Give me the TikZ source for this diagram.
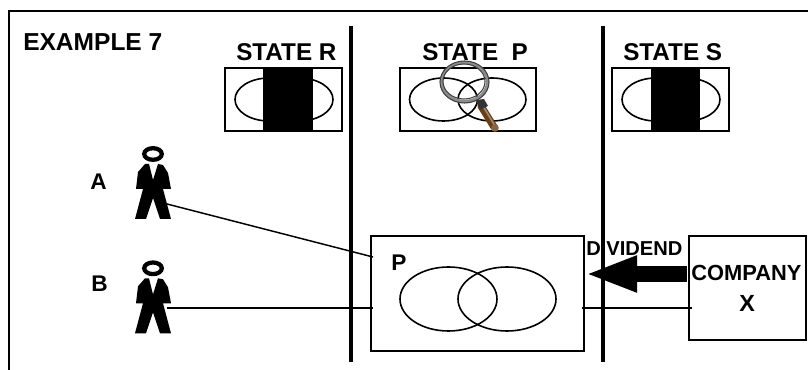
\documentclass[tikz,border=0pt]{standalone}
\usepackage{fontspec}
\setmainfont{Liberation Sans}
\usepackage{tikz}
\usetikzlibrary{positioning,arrows.meta,calc}
\definecolor{handlebrown}{HTML}{6B3D14}
\definecolor{handleend}{HTML}{8A6240}
\tikzset{%
  thinline/.style = { line width = 1.1pt, draw = black },
  border/.style   = { line width = 1.8pt, draw = black },
  divider/.style  = { line width = 3.2pt, draw = black },
  oval/.style     = { line width = 1.2pt, draw = black },
  statebox/.style = { draw = black, line width = 1.3pt, minimum height = 47.25pt, inner sep = 0pt },
  tbox/.style     = { draw = black, line width = 1.3pt, inner sep = 0pt },
  lbl/.style      = { font = \bfseries\fontsize{#1}{#1}\selectfont, inner sep = 0pt, anchor = base west },
  lbl/.default    = 18,
  man/.pic = {
    \fill[black] (-8,10) -- (-4,10) -- (0,26) -- (5,10) -- (10,11) -- (15,19) -- (18,35)
      -- (10,35) -- (18,65) -- (7,65) -- (0,44) -- (-7,65) -- (-18,65) -- (-10,35) -- (-17,35) -- (-15,18) -- cycle;
    \draw[line width = 3.2pt] (0,0) ellipse [x radius = 8.8, y radius = 5.8];
  }
}
\begin{document}
\begin{tikzpicture}[x=0.75pt,y=-0.75pt]
\useasboundingbox (0,0) rectangle (808,370);

% frame
\draw[border] (9,370) -- (9,11) -- (808,11);

% titles
\node(title)  [lbl=18.4] at (23,51)  {EXAMPLE 7};
\node(stateR) [lbl=18.2] at (236,61) {STATE R};
\node(stateP) [lbl=18.2] at (422,61) {STATE\hspace{0.55em}P};
\node(stateS) [lbl=18.2] at (623,61) {STATE S};

% the three small boxes
\node(boxR) [statebox, minimum width = 87.75pt] at (283.5,99.5) {};
\node(boxP) [statebox, minimum width = 102pt]   at (468,99.5)   {};
\node(boxS) [statebox, minimum width = 87.75pt] at (670.5,99.5) {};
\foreach \cx in {269,299,443.5,492,656,686}
  \draw[oval] (\cx,99.5) ellipse [x radius = 34, y radius = 21.5];
\fill[black] (263,68) rectangle (313,131);
\fill[black] (651,68) rectangle (700,131);

% people
\node(labelA) [lbl=17] at (90,190) {A};
\node(labelB) [lbl=17] at (91,292) {B};
\pic at (153,154) {man};
\pic at (153,268.3) {man};
\coordinate (handA) at (167,204);
\coordinate (handB) at (167,308);

% company boxes
\node(compP) [tbox, minimum width = 159.75pt, minimum height = 86.25pt] at (477.5,293.5) {};
\node(compX) [tbox, minimum width = 87.75pt, minimum height = 78pt] at (747.5,288) {};
\node(labelP) [lbl=17] at (391,271) {P};
\draw[oval] (448.5,299) ellipse [x radius = 48.5, y radius = 32];
\draw[oval] (507,299) ellipse [x radius = 49, y radius = 32];
\node(company) [lbl=16.4] at (691,281) {COMPANY};
\node(labelX)  [lbl=17.5] at (739,312) {X};
\node(dividend) [lbl=15.1] at (586,256) {DIVIDEND};

% links
\coordinate (entryA) at (373,257);
\coordinate (entryB) at (373,308);
\coordinate (exitP)  at (582,308);
\coordinate (entryX) at (692,308);
\draw[thinline] (handA) -- (entryA);
\draw[thinline] (handB) -- (entryB);
\draw[thinline] (exitP) -- (entryX);

% state borders
\coordinate (topR) at (351,26);
\coordinate (botR) at (351,362);
\coordinate (topS) at (603,26);
\coordinate (botS) at (603,362);
\draw[divider] (topR) -- (botR);
\draw[divider] (topS) -- (botS);

% dividend arrow
\coordinate (fromX) at (687,274);
\coordinate (toP)   at (585,274);
\draw[line width = 12pt, -{Triangle[length = 39pt, width = 24.75pt]}] (fromX) -- (toP);

% magnifier
\draw[line width = 5.4pt, line cap = round, handlebrown] (481,106) -- (494,127);
\draw[line width = 1.2pt, line cap = round, handlebrown!60!white] (483,106) -- (495,126);
\fill[handleend] (495,128) circle [radius = 3.8];
\fill[black!80] (476,100) -- (484,99) -- (488,106) -- (480,110) -- cycle;
\draw[line width = 2.4pt, black!45] (464.5,82) ellipse [x radius = 23, y radius = 19.5];
\draw[line width = 0.8pt, black!75] (464.5,82) ellipse [x radius = 24.5, y radius = 21];
\draw[line width = 0.8pt, black!75] (464,81.5) ellipse [x radius = 21, y radius = 17.5];
\end{tikzpicture}
\end{document}
